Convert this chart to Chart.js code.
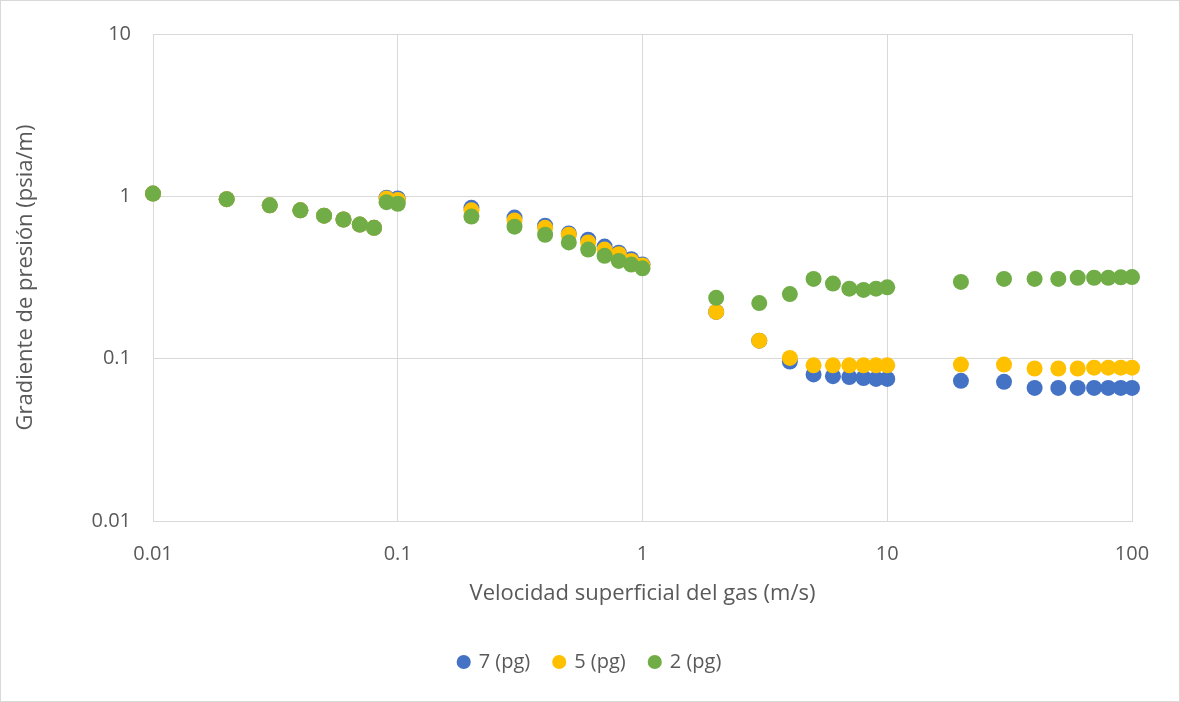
<!DOCTYPE html>
<html lang="es">
<head>
  <meta charset="UTF-8">
  <title>Gradiente de presión vs velocidad superficial del gas</title>
  <script src="https://cdn.jsdelivr.net/npm/chart.js"></script>
  <style>
    html, body { margin: 0; padding: 0; background: #fff; }
    .chart-container { width: 1180px; height: 702px; position: relative; }
  </style>
</head>
<body>
<div class="chart-container">
  <canvas id="gradChart"></canvas>
</div>

<script>
  // velocidad superficial del gas (m/s)
  const velocidad = [0.01, 0.02, 0.03, 0.04, 0.05, 0.06, 0.07, 0.08, 0.09, 0.1,
    0.2, 0.3, 0.4, 0.5, 0.6, 0.7, 0.8, 0.9, 1,
    2, 3, 4, 5, 6, 7, 8, 9, 10,
    20, 30, 40, 50, 60, 70, 80, 90, 100];

  // gradiente de presión (psia/m)
  const grad7 = [1.04, 0.96, 0.88, 0.82, 0.76, 0.72, 0.67, 0.64, 0.98, 0.97,
    0.85, 0.74, 0.66, 0.59, 0.54, 0.49, 0.45, 0.41, 0.38,
    0.194, 0.129, 0.096, 0.080, 0.078, 0.077, 0.076, 0.075, 0.075,
    0.073, 0.072, 0.066, 0.066, 0.066, 0.066, 0.066, 0.066, 0.066];
  const grad5 = [1.04, 0.96, 0.88, 0.82, 0.76, 0.72, 0.67, 0.64, 0.97, 0.95,
    0.82, 0.71, 0.64, 0.58, 0.52, 0.47, 0.44, 0.40, 0.375,
    0.194, 0.129, 0.101, 0.091, 0.091, 0.091, 0.091, 0.091, 0.091,
    0.092, 0.092, 0.087, 0.087, 0.087, 0.088, 0.088, 0.088, 0.088];
  const grad2 = [1.04, 0.96, 0.88, 0.82, 0.76, 0.72, 0.67, 0.64, 0.92, 0.90,
    0.75, 0.65, 0.58, 0.52, 0.47, 0.43, 0.40, 0.38, 0.36,
    0.237, 0.22, 0.25, 0.31, 0.29, 0.27, 0.265, 0.27, 0.275,
    0.297, 0.31, 0.31, 0.31, 0.315, 0.315, 0.315, 0.317, 0.318];

  const seriesNames = ['7 (pg)', '5 (pg)', '2 (pg)'];
  const seriesColors = ['#4472C4', '#FFC000', '#70AD47'];
  const xTicks = [0.01, 0.1, 1, 10, 100];
  const yTicks = [0.01, 0.1, 1, 10];

  const toPoints = ys => velocidad.map((v, i) => ({ x: v, y: ys[i] }));
  const allSeries = [grad7, grad5, grad2];

  const textColor = '#595959';
  const gridColor = '#d9d9d9';
  const fontFamily = "'Open Sans', 'Liberation Sans', sans-serif";

  // white background + thin outer frame like the spreadsheet chart
  const frame = {
    id: 'frame',
    beforeDraw(chart) {
      const c = chart.ctx;
      c.save();
      c.fillStyle = '#fff';
      c.fillRect(0, 0, chart.width, chart.height);
      c.strokeStyle = gridColor;
      c.lineWidth = 1;
      c.strokeRect(0.5, 0.5, chart.width - 1, chart.height - 1);
      c.restore();
    }
  };

  const fmt = v => {
    const n = Number(v);
    return xTicks.includes(n) || yTicks.includes(n) ? String(n) : '';
  };

  new Chart(document.getElementById('gradChart'), {
    type: 'scatter',
    data: {
      datasets: allSeries.map((ys, i) => ({
        label: seriesNames[i],
        data: toPoints(ys),
        backgroundColor: seriesColors[i],
        borderColor: seriesColors[i],
        borderWidth: 0,
        pointRadius: 8,
        pointHoverRadius: 8,
        clip: false,
        order: 3 - i   // green drawn on top
      }))
    },
    options: {
      responsive: true,
      maintainAspectRatio: false,
      animation: false,
      layout: { padding: { left: 0, right: 0, top: 25, bottom: 20 } },
      plugins: {
        tooltip: { enabled: false },
        legend: {
          position: 'bottom',
          labels: {
            usePointStyle: true,
            pointStyle: 'circle',
            boxWidth: 10,
            boxHeight: 10,
            padding: 24,
            color: textColor,
            font: { family: fontFamily, size: 20 },
            sort: (a, b) => a.datasetIndex - b.datasetIndex
          }
        }
      },
      scales: {
        x: {
          type: 'logarithmic',
          min: 0.01,
          max: 100,
          afterBuildTicks: s => { s.ticks = xTicks.map(v => ({ value: v })); },
          afterFit: s => { s.height = 107; },
          ticks: {
            color: textColor,
            font: { family: fontFamily, size: 20 },
            padding: 21,
            maxRotation: 0,
            autoSkip: false,
            callback: fmt
          },
          grid: { color: gridColor, drawTicks: false },
          border: { color: gridColor },
          title: {
            display: true,
            text: 'Velocidad superficial del gas (m/s)',
            color: textColor,
            font: { family: fontFamily, size: 22 },
            padding: { top: 10, bottom: 21 }
          }
        },
        y: {
          type: 'logarithmic',
          min: 0.01,
          max: 10,
          afterBuildTicks: s => { s.ticks = yTicks.map(v => ({ value: v })); },
          afterFit: s => { s.width = 153; },
          ticks: {
            color: textColor,
            font: { family: fontFamily, size: 20 },
            padding: 22,
            autoSkip: false,
            callback: fmt
          },
          grid: { color: gridColor, drawTicks: false },
          border: { color: gridColor },
          title: {
            display: true,
            text: 'Gradiente de presión (psia/m)',
            color: textColor,
            font: { family: fontFamily, size: 22 },
            padding: { top: 13, bottom: 0 }
          }
        },
        // empty right-hand spacer so the legend stays centred on the whole canvas
        spacer: {
          type: 'linear',
          position: 'right',
          display: true,
          afterFit: s => { s.width = 48; },
          ticks: { display: false },
          grid: { display: false },
          border: { display: false }
        }
      }
    },
    plugins: [frame]
  });
</script>
</body>
</html>
